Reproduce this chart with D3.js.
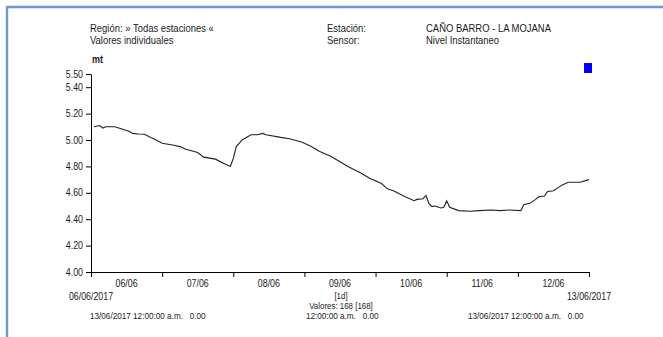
<!DOCTYPE html>
<html><head><meta charset="utf-8">
<script src="https://cdn.jsdelivr.net/npm/d3@7"></script>
<style>
html,body{margin:0;padding:0;background:#fff;}
svg text{font-family:"Liberation Sans",Arial,sans-serif;font-size:10px;fill:#1a1a1a;}
</style></head>
<body>
<svg id="c" width="663" height="337"></svg>
<script>
// hours after 06/06/2017 00:00
const hours = [1,3,4,5,8,11,13,14,16,18,20,22,24,28,30,32,36,38,42,45,47,48,49,51,54,56,58,59,64,67,71,74,77,81,84,87,91,94,98,100,102,106,109,110,112,113,114,115,116,118,119,120,121,124,128,131,135,138,141,145,146,148,150,151,153,154,156,158,159,161,165,168];
const levels = [5.10,5.11,5.09,5.10,5.10,5.08,5.065,5.05,5.045,5.043,5.02,5.00,4.975,4.96,4.95,4.93,4.905,4.87,4.855,4.82,4.80,4.86,4.95,5.00,5.04,5.04,5.05,5.04,5.02,5.01,4.985,4.955,4.915,4.875,4.835,4.795,4.75,4.71,4.67,4.63,4.615,4.57,4.54,4.55,4.555,4.58,4.52,4.495,4.50,4.485,4.49,4.54,4.49,4.465,4.46,4.465,4.47,4.465,4.47,4.465,4.51,4.52,4.55,4.57,4.575,4.61,4.615,4.645,4.66,4.68,4.68,4.70];
const yTicks = [5.50,5.40,5.20,5.00,4.80,4.60,4.40,4.20,4.00];
const dayLabels = ["06/06","07/06","08/06","09/06","10/06","11/06","12/06"];
const headerLeft = ["Región: » Todas estaciones «","Valores individuales"];
const headerMid = ["Estación:","Sensor:"];
const headerRight = ["CAÑO BARRO - LA MOJANA","Nivel Instantaneo"];
const unit = "mt";
const startLabel = "06/06/2017", endLabel = "13/06/2017";
const intervalLabel = "[1d]", countLabel = "Valores: 168 [168]";
const footer = ["13/06/2017 12:00:00 a.m.   0.00","12:00:00 a.m.   0.00","13/06/2017 12:00:00 a.m.   0.00"];

const svg = d3.select("#c");
const t0 = new Date(2017,5,6,0,0,0);
const t1 = new Date(2017,5,13,0,0,0);
const L=91, R=589, T=74, B=272;
const x = d3.scaleTime().domain([t0,t1]).range([L,R]);
const y = d3.scaleLinear().domain([4.0,5.5]).range([B,T]);

function txt(g, px, py, s, size, sx, anchor, weight){
  return g.append("text")
    .attr("transform",`translate(${px},${py}) scale(${sx},1)`)
    .attr("text-anchor", anchor||"start")
    .attr("xml:space","preserve")
    .style("white-space","pre")
    .style("font-size", size+"px")
    .style("font-weight", weight||"normal")
    .text(s);
}

// frame
svg.append("path").attr("d",`M7,337 L7,7 L663,7`).attr("fill","none").attr("stroke","#6f98cf").attr("stroke-width",2.4);

// header
const hl = svg.append("g");
headerLeft.forEach((s,i)=>txt(hl,90,32+i*12,s,11,0.86));
headerMid.forEach((s,i)=>txt(hl,327,32+i*12,s,11,0.86));
headerRight.forEach((s,i)=>txt(hl,426,32+i*12,s,11,0.86));
txt(hl,92,63,unit,10,0.9,"start","bold");

// legend square
svg.append("rect").attr("x",584).attr("y",63).attr("width",8).attr("height",10).attr("fill","#0000ff");

// y axis
const yAxis = d3.axisLeft(y).tickValues(yTicks).tickFormat("").tickSize(5).tickSizeOuter(0);
const gy = svg.append("g").attr("transform",`translate(${L},0)`).call(yAxis);
gy.select(".domain").attr("stroke","#000");
gy.selectAll(".tick line").attr("stroke","#000");
const fmt = d3.format(".2f");
yTicks.forEach(v=>txt(svg, L-8, y(v)+3.5, fmt(v), 10.5, 0.84, "end"));

// x axis
const days = d3.timeDay.range(t0, d3.timeDay.offset(t1,1));
const xAxis = d3.axisBottom(x).tickValues(days).tickFormat("").tickSize(5).tickSizeOuter(0);
const gx = svg.append("g").attr("transform",`translate(0,${B})`).call(xAxis);
gx.select(".domain").attr("stroke","#000");
gx.selectAll(".tick line").attr("stroke","#000");

// day labels centered mid-day
dayLabels.forEach((s,i)=>{
  const mid = new Date(t0.getTime() + (i+0.5)*86400000);
  txt(svg, x(mid), 287, s, 10.5, 0.84, "middle");
});
txt(svg, x(t0), 300, startLabel, 10.5, 0.84, "middle");
txt(svg, x(t1), 300, endLabel, 10.5, 0.84, "middle");
txt(svg, 341, 299, intervalLabel, 9, 0.88, "middle");
txt(svg, 341, 309, countLabel, 9, 0.88, "middle");
const fx=[90,306,468];
footer.forEach((s,i)=>txt(svg, fx[i], 319, s, 9.5, 0.86));

// line
const data = hours.map((h,i)=>({t:new Date(t0.getTime()+h*3600000), v:levels[i]}));
svg.append("path").datum(data)
  .attr("fill","none").attr("stroke","#222").attr("stroke-width",1.1)
  .attr("d", d3.line().x(d=>x(d.t)).y(d=>y(d.v)));
</script>
</body></html>
